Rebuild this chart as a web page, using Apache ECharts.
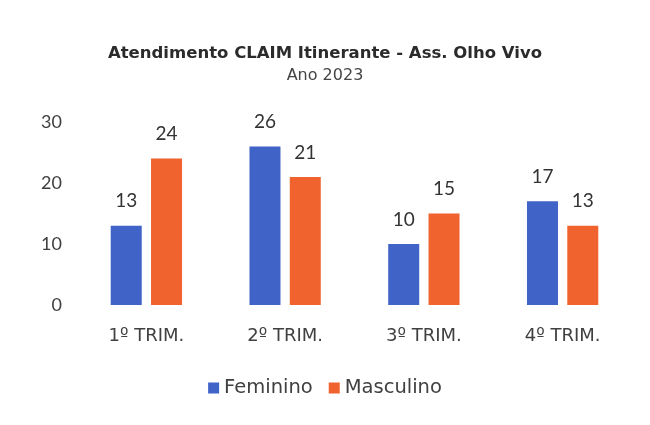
<!DOCTYPE html>
<html>
<head>
<meta charset="utf-8">
<script src="https://cdn.jsdelivr.net/npm/echarts@6/dist/echarts.min.js"></script>
<style>
  html, body { margin: 0; padding: 0; background: #fff; }
  #chart { width: 650px; height: 425px; }
</style>
</head>
<body>
<div id="chart"></div>
<script>
var trimestres = ['1º TRIM.', '2º TRIM.', '3º TRIM.', '4º TRIM.']
var feminino = [13, 26, 10, 17]
var masculino = [24, 21, 15, 13]
var yTicks = [0, 10, 20, 30]

var myChart = echarts.init(document.getElementById('chart'))
var fonte = '"DejaVu Sans", sans-serif'
var fonteNum = 'Lato, "Liberation Sans", sans-serif'

var option = {
  backgroundColor: '#ffffff',
  textStyle: { fontFamily: fonte },
  title: {
    text: 'Atendimento CLAIM Itinerante - Ass. Olho Vivo',
    subtext: 'Ano 2023',
    left: 'center',
    top: 40,
    itemGap: 6,
    textStyle: { fontSize: 16.5, fontWeight: 'bold', color: '#2b2b2b', fontFamily: fonte },
    subtextStyle: { fontSize: 16, color: '#444', fontFamily: fonte }
  },
  legend: {
    data: ['Feminino', 'Masculino'],
    bottom: 22,
    left: 'center',
    itemWidth: 11,
    itemHeight: 11,
    itemGap: 16,
    icon: 'rect',
    textStyle: { fontSize: 19.5, color: '#404040', fontFamily: fonte }
  },
  grid: {
    left: 77,
    right: 18,
    top: 122,
    bottom: 120
  },
  xAxis: {
    type: 'category',
    data: trimestres,
    axisLine: { show: false },
    axisTick: { show: false },
    axisLabel: { fontSize: 18, color: '#404040', margin: 22, fontFamily: fonte }
  },
  yAxis: {
    type: 'value',
    min: yTicks[0],
    max: yTicks[yTicks.length - 1],
    interval: 10,
    splitLine: { show: false },
    axisLine: { show: false },
    axisTick: { show: false },
    axisLabel: { fontSize: 18, color: '#404040', margin: 15, fontFamily: fonteNum }
  },
  series: [
    {
      name: 'Feminino',
      type: 'bar',
      data: feminino,
      barWidth: 31,
      barGap: '30%',
      itemStyle: { color: '#3f63c6' },
      label: { show: true, position: 'top', distance: 15, fontSize: 19, color: '#333', fontFamily: fonteNum }
    },
    {
      name: 'Masculino',
      type: 'bar',
      data: masculino,
      barWidth: 31,
      itemStyle: { color: '#f0632f' },
      label: { show: true, position: 'top', distance: 15, fontSize: 19, color: '#333', fontFamily: fonteNum }
    }
  ]
}

myChart.setOption(option)
</script>
</body>
</html>
